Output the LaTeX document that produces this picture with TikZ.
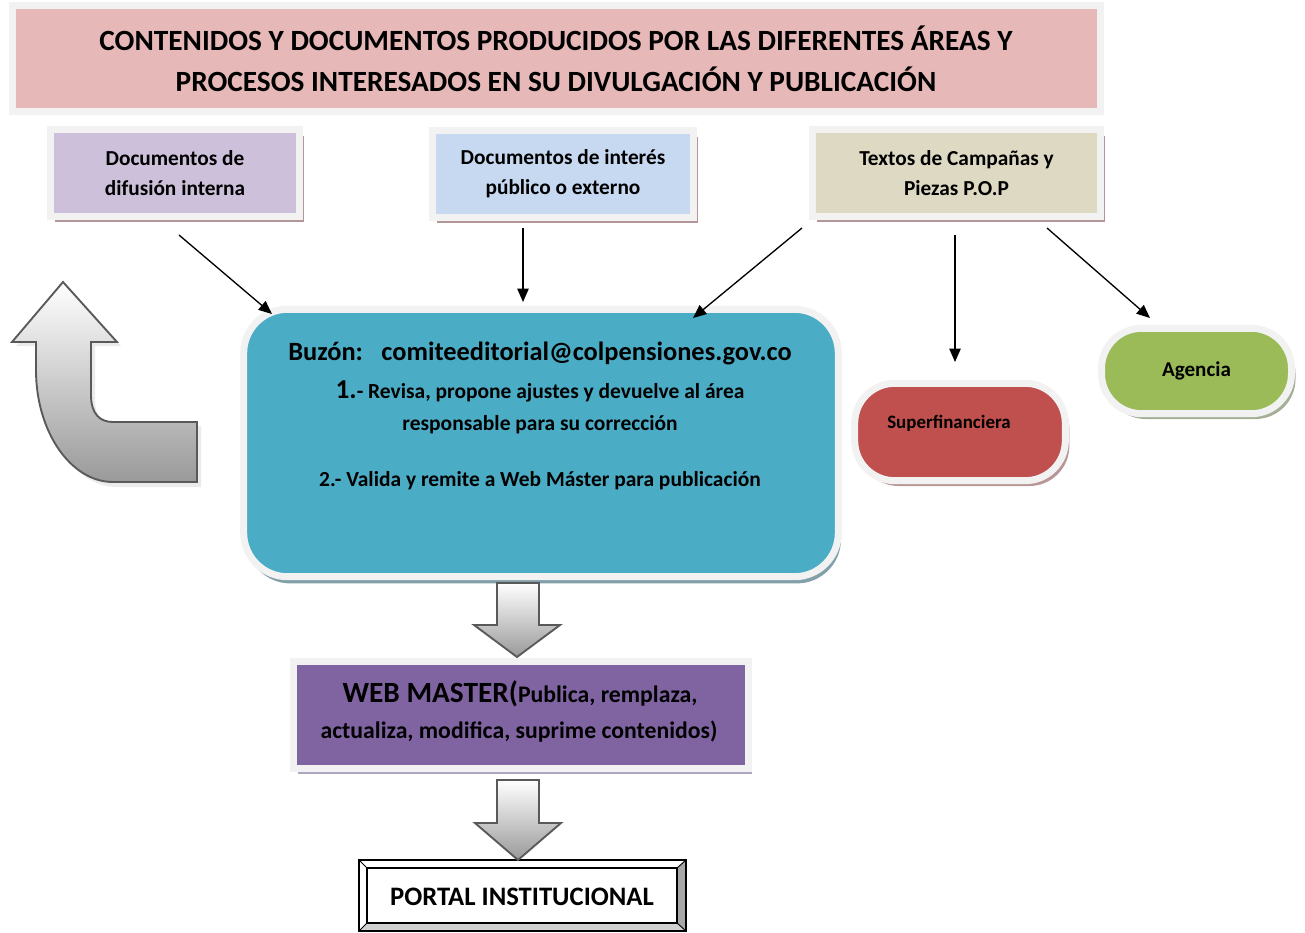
\documentclass[tikz,border=0pt]{standalone}
\usepackage{fontspec}
\setmainfont{Carlito}
\usetikzlibrary{arrows.meta,shadows,shapes.misc}
\definecolor{cpink}{HTML}{E6B9B8}
\definecolor{clav}{HTML}{CCC0DA}
\definecolor{cblue}{HTML}{C6D9F1}
\definecolor{ctan}{HTML}{DDD9C3}
\definecolor{cteal}{HTML}{4BACC6}
\definecolor{cred}{HTML}{C0504D}
\definecolor{cgreen}{HTML}{9BBB59}
\definecolor{cpurple}{HTML}{8064A2}
\definecolor{cborder}{HTML}{F2F2F2}
\definecolor{cshadow}{HTML}{B39798}
\definecolor{cstroke}{HTML}{595959}
\definecolor{shteal}{HTML}{82A0AA}
\definecolor{shred}{HTML}{B99696}
\definecolor{shgreen}{HTML}{A5AF96}
\definecolor{shpurple}{HTML}{AFA5BE}
\tikzset{
  frame/.style={draw=cborder, line width=5.25pt, inner sep=0pt, align=center, font=\bfseries},
  docbox/.style={frame, minimum height=65pt, font=\bfseries\fontsize{16}{22.5}\selectfont,
     drop shadow={shadow xshift=3pt, shadow yshift=-4.5pt, fill=cshadow, opacity=1}},
  pill/.style={frame, rounded corners=30pt},
  conn/.style={line width=1pt, -{Triangle[length=10pt,width=8.5pt]}},
  blockarrow/.style={draw=cstroke, line width=1.4pt, top color=white, bottom color=black!40},
  txt/.style={inner sep=0pt, align=center, font=\bfseries}
}
\begin{document}
\begin{tikzpicture}[x=0.75pt,y=-0.75pt]
\useasboundingbox (0,0) rectangle (1305,932);
% title
\node[frame, fill=cpink, minimum width=816pt, minimum height=79pt,
  font=\bfseries\fontsize{22}{30.75}\selectfont] (title) at (556,58.5)
  {CONTENIDOS Y DOCUMENTOS PRODUCIDOS POR LAS DIFERENTES ÁREAS Y\\PROCESOS INTERESADOS EN SU DIVULGACIÓN Y PUBLICACIÓN};
% source boxes
\node[docbox, fill=clav, minimum width=186.75pt] (b1) at (175,173) {Documentos de\\difusión interna};
\node[docbox, fill=cblue, minimum width=195.75pt] (b2) at (563,174) {Documentos de interés\\público o externo};
\node[docbox, fill=ctan, minimum width=216pt] (b3) at (956.5,173) {Textos de Campañas y\\Piezas P.O.P};
% buzon
\node[frame, fill=cteal, rounded corners=33pt, minimum width=446pt, minimum height=200.6pt,
  drop shadow={shadow xshift=2pt, shadow yshift=-5pt, fill=shteal, opacity=1}] (buzon) at (541,443) {};
\node[txt, font=\bfseries\fontsize{19.8}{22}\selectfont] (bz1) at (540,353) {Buzón:\hspace{0.7em}comiteeditorial@colpensiones.gov.co};
\node[txt, font=\bfseries\fontsize{16.1}{22}\selectfont] (bz2) at (540,391) {{\fontsize{20.5}{22}\selectfont 1.}- Revisa, propone ajustes y devuelve al área};
\node[txt, font=\bfseries\fontsize{16.1}{22}\selectfont] (bz3) at (540,425) {responsable para su corrección};
\node[txt, font=\bfseries\fontsize{16.1}{22}\selectfont] (bz4) at (540,481) {2.- Valida y remite a Web Máster para publicación};
% pills
\node[pill, fill=cred, minimum width=158pt, minimum height=73pt,
  drop shadow={shadow xshift=3pt, shadow yshift=-4pt, fill=shred, opacity=1}] (sf) at (960,432) {};
\node[txt, font=\bfseries\fontsize{14.2}{16}\selectfont] (sft) at (949,423) {Superfinanciera};
\node[pill, fill=cgreen, minimum width=142.5pt, minimum height=64pt,
  font=\bfseries\fontsize{15.8}{18}\selectfont,
  drop shadow={shadow xshift=3pt, shadow yshift=-4pt, fill=shgreen, opacity=1}] (ag) at (1196.5,371) {\raisebox{3pt}{Agencia}};
% web master
\node[frame, fill=cpurple, minimum width=341pt, minimum height=80pt,
  drop shadow={shadow xshift=3pt, shadow yshift=-4pt, fill=shpurple, opacity=1}] (wm) at (521,715) {};
\node[txt, font=\bfseries\fontsize{17.8}{22}\selectfont] (wm1) at (520,694) {{\fontsize{22}{22}\selectfont WEB MASTER(}Publica, remplaza,};
\node[txt, font=\bfseries\fontsize{17.8}{22}\selectfont] (wm2) at (519,732) {actualiza, modifica, suprime contenidos)};
% portal
\fill[white] (359,860) -- (686,860) -- (677,868) -- (367,868) -- cycle;
\fill[white] (359,860) -- (367,868) -- (367,923) -- (359,931) -- cycle;
\fill[black!35] (686,860) -- (686,931) -- (677,923) -- (677,868) -- cycle;
\fill[black!18] (359,931) -- (686,931) -- (677,923) -- (367,923) -- cycle;
\draw[line width=0.9pt] (359,860) rectangle (686,931);
\draw[line width=0.9pt] (367,868) rectangle (677,923);
\draw[line width=0.7pt] (359,860) -- (367,868) (686,860) -- (677,868) (359,931) -- (367,923) (686,931) -- (677,923);
\node[txt, font=\bfseries\fontsize{20}{22}\selectfont] (portal) at (522,897) {PORTAL INSTITUCIONAL};
% connectors
\coordinate (s1) at (179,235); \coordinate (e1) at (272,314);
\coordinate (s2) at (523,228); \coordinate (e2) at (523,302);
\coordinate (s3) at (802,228); \coordinate (e3) at (693,318);
\coordinate (s4) at (955,235); \coordinate (e4) at (955,362);
\coordinate (s5) at (1047,228); \coordinate (e5) at (1150,318);
\draw[conn] (s1) -- (e1);
\draw[conn] (s2) -- (e2);
\draw[conn] (s3) -- (e3);
\draw[conn] (s4) -- (e4);
\draw[conn] (s5) -- (e5);
% block arrows
\path[blockarrow] (497,583) -- (539,583) -- (539,625) -- (560,625) -- (517,657) -- (474,625) -- (497,625) -- cycle;
\path[blockarrow] (497,780) -- (539,780) -- (539,823) -- (561,823) -- (518,860) -- (475,823) -- (497,823) -- cycle;
% curved arrow
\fill[black!8] (66,286) -- (121,346) -- (95,346) -- (95,399)
  .. controls (95,418) and (104,426) .. (117,426) -- (201,426) -- (201,487) -- (117,487)
  .. controls (75,487) and (40,436) .. (40,374) -- (40,346) -- (16,346) -- cycle;
\path[blockarrow] (63,282) -- (117,342) -- (91,342) -- (91,395)
  .. controls (91,414) and (100,422) .. (113,422) -- (197,422) -- (197,482) -- (113,482)
  .. controls (71,482) and (36,432) .. (36,370) -- (36,342) -- (12,342) -- cycle;
\end{tikzpicture}
\end{document}
